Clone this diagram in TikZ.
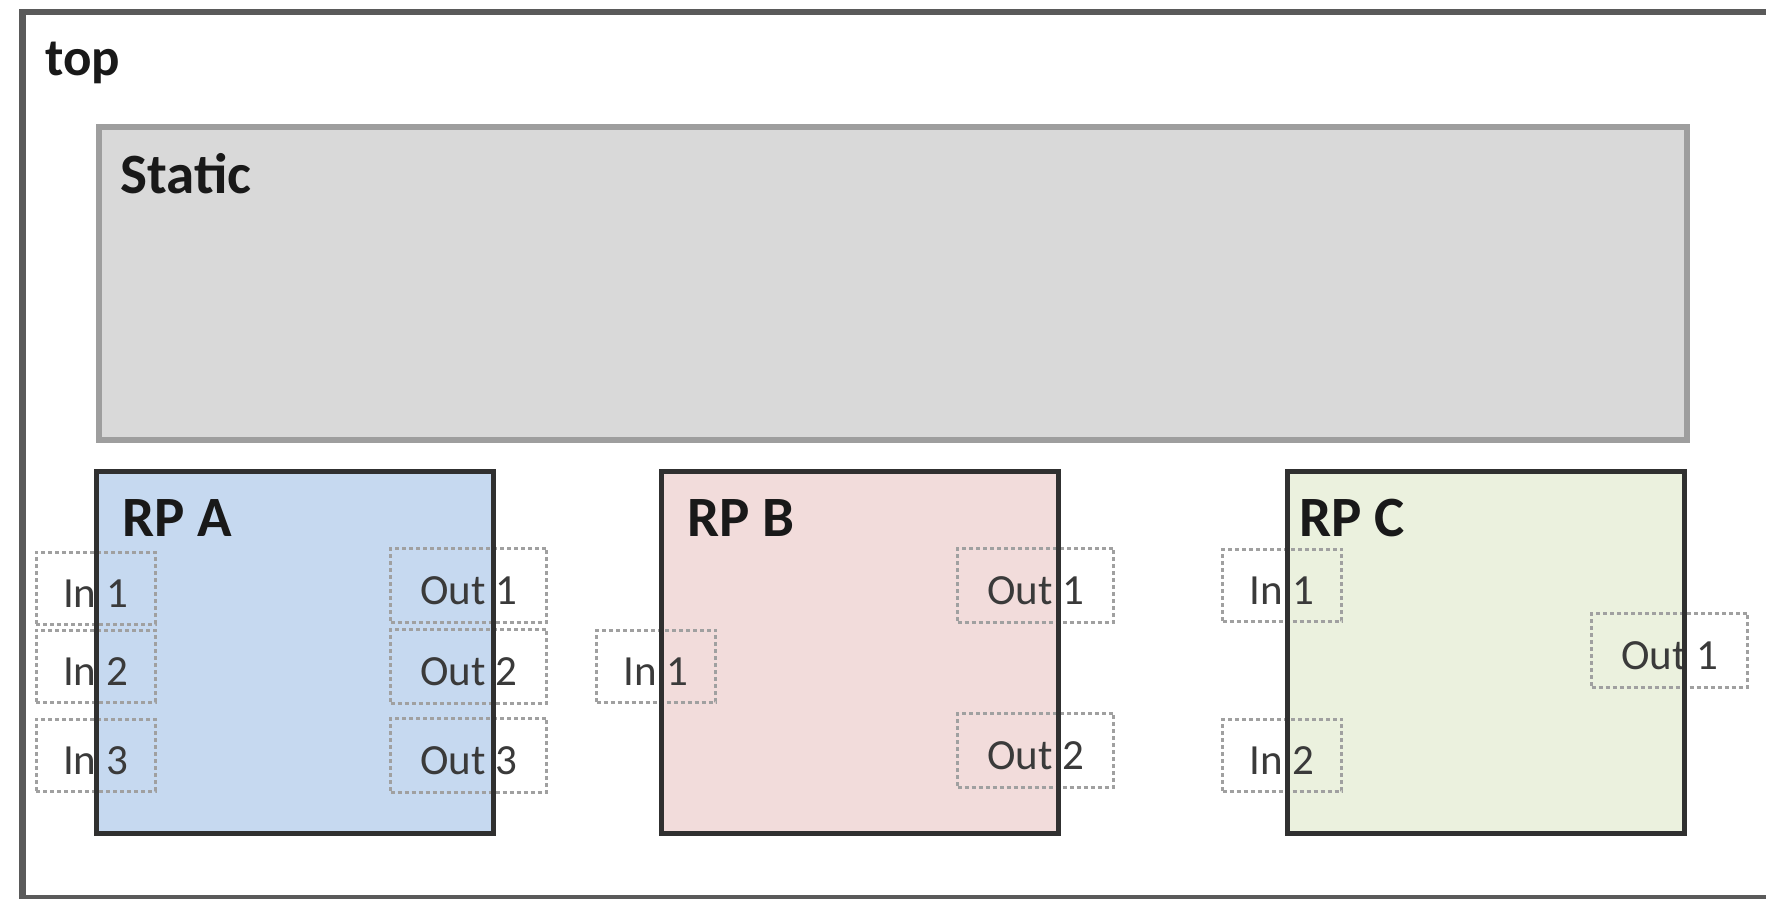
\documentclass[tikz,border=0pt]{standalone}
\usepackage{fontspec}
\setmainfont{Carlito}
\definecolor{frameC}{HTML}{5A5A5A}
\definecolor{staticF}{HTML}{D9D9D9}
\definecolor{staticD}{HTML}{9E9E9E}
\definecolor{rpAF}{HTML}{C6D9F0}
\definecolor{rpBF}{HTML}{F2DCDB}
\definecolor{rpCF}{HTML}{EBF1DE}
\definecolor{rpD}{HTML}{303030}
\definecolor{portD}{HTML}{A0A0A0}
\definecolor{portT}{HTML}{3A3A3A}
\begin{document}
\begin{tikzpicture}[x=1pt,y=-1pt,
  lbl/.style={font=\bfseries\fontsize{57}{60}\selectfont, text=black!90, anchor=base west, inner sep=0pt},
  port/.style={draw=portD, dash pattern=on 4pt off 3pt, line width=3pt, inner sep=0pt,
    font=\fontsize{43}{45}\selectfont, text=portT, text height=38pt, text depth=0pt},
  inport/.style={port, minimum width=119pt, minimum height=72pt},
  outport/.style={port, minimum width=156pt, minimum height=74pt},
  rpfill/.style={inner sep=0pt, outer sep=0pt, anchor=north west, minimum width=397pt, minimum height=362pt},
  rpline/.style={draw=rpD, line width=5pt},
]
\useasboundingbox (0,0) rectangle (1766,899);
\node[draw=frameC, line width=6.5pt, inner sep=0pt, anchor=north west,
  minimum width=1800pt, minimum height=886pt] (frame) at (19,9) {};
\node[lbl, font=\bfseries\fontsize{53}{56}\selectfont] (toplbl) at (45,75) {top};
\node[draw=staticD, fill=staticF, line width=5.5pt, inner sep=0pt, anchor=north west,
  minimum width=1588pt, minimum height=313pt] (static) at (96,124) {};
\node[lbl] (staticlbl) at (120,193) {Static};
% RP fills
\node[rpfill, fill=rpAF] (rpA) at (96,471) {};
\node[rpfill, fill=rpBF] (rpB) at (661,471) {};
\node[rpfill, fill=rpCF] (rpC) at (1287,471) {};
% ports of RP A
\node[inport] (aIn1) at (95.5,588) {In 1};
\node[inport] (aIn2) at (95.5,666) {In 2};
\node[inport] (aIn3) at (95.5,755) {In 3};
\node[outport] (aOut1) at (468.5,585) {Out 1};
\node[outport] (aOut2) at (468.5,666) {Out 2};
\node[outport] (aOut3) at (468.5,755) {Out 3};
% ports of RP B
\node[inport] (bIn1) at (656,666) {In 1};
\node[outport] (bOut1) at (1035.5,585) {Out 1};
\node[outport] (bOut2) at (1035.5,750) {Out 2};
% ports of RP C
\node[inport] (cIn1) at (1282,585) {In 1};
\node[inport] (cIn2) at (1282,755) {In 2};
\node[outport] (cOut1) at (1669.5,650) {Out 1};
% RP borders on top
\draw[rpline] (rpA.north west) rectangle (rpA.south east);
\draw[rpline] (rpB.north west) rectangle (rpB.south east);
\draw[rpline] (rpC.north west) rectangle (rpC.south east);
% RP labels
\node[lbl] (rpAlbl) at (122,536) {RP A};
\node[lbl] (rpBlbl) at (687,536) {RP B};
\node[lbl] (rpClbl) at (1299,536) {RP C};
\end{tikzpicture}
\end{document}
